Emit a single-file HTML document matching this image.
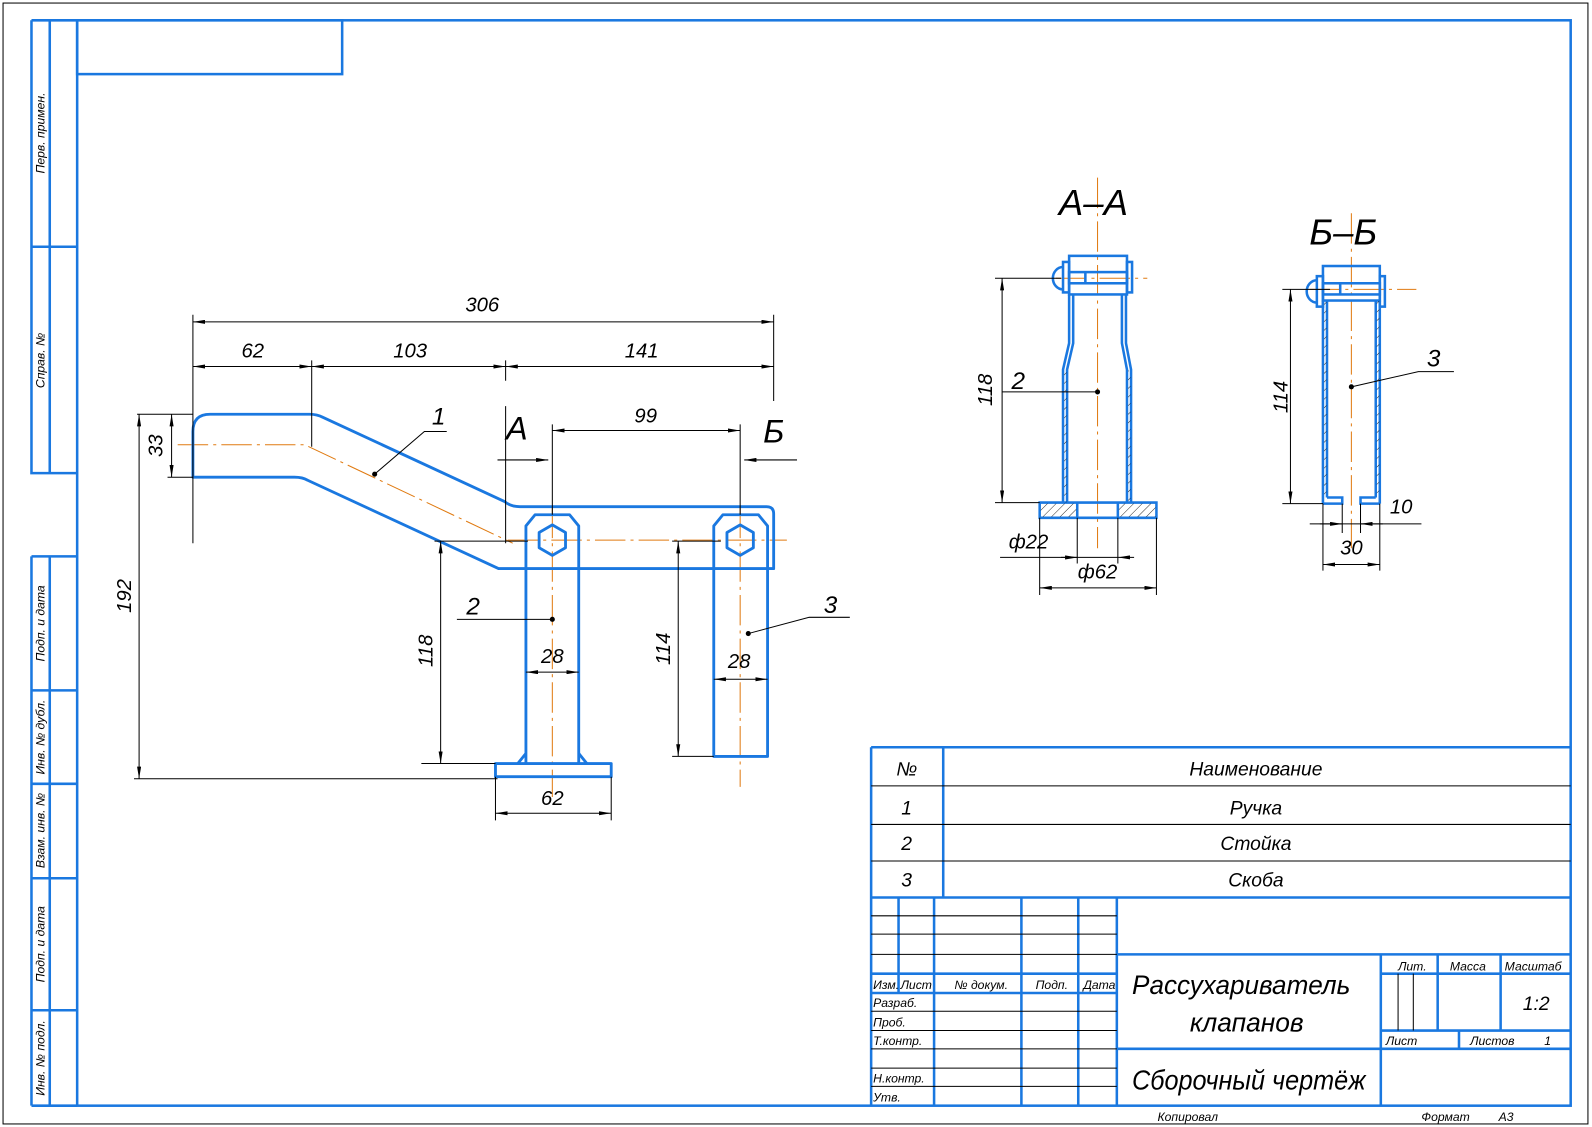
<!DOCTYPE html>
<html><head><meta charset="utf-8"><style>
html,body{margin:0;padding:0;background:#fff;}
svg{display:block;}
text{font-family:"Liberation Sans",sans-serif;font-style:italic;fill:#000;}
</style></head><body>
<svg width="1592" height="1127" viewBox="0 0 1568 1110" preserveAspectRatio="none" xmlns="http://www.w3.org/2000/svg">
<defs>
<marker id="a" viewBox="0 0 12 4" refX="12" refY="2" markerWidth="12" markerHeight="4" markerUnits="userSpaceOnUse" orient="auto-start-reverse"><path d="M0,0 L12,2 L0,4 z" fill="#000"/></marker>
<pattern id="h" width="6" height="6" patternUnits="userSpaceOnUse" patternTransform="rotate(45)"><line x1="0" y1="0" x2="0" y2="6" stroke="#000" stroke-width="0.8"/></pattern>
</defs>
<rect x="0" y="0" width="1568" height="1110" fill="#fff"/>
<rect x="3" y="3" width="1561" height="1104" fill="none" stroke="#000" stroke-width="1"/>
<g fill="none" stroke="#1a78e0" stroke-width="2.5">
<rect x="76" y="20" width="1471" height="1069"/>
<rect x="76" y="20" width="261" height="53"/>
<path d="M31,20 V466 H76 M49,20 V466 M31,20 H76 M31,243 H76"/>
<path d="M31,548 V1089 M49,548 V1089 M31,548 H76 M31,680 H76 M31,772 H76 M31,865 H76 M31,995 H76 M31,1089 H76"/>
<path d="M858,736 H1547 M858,736 V1089 M929,736 V884 M858,884 H1547"/>
<path d="M885,884 V978 M920,884 V1089 M1006,884 V1089 M1062,884 V1089 M1100,884 V1089 M858,959 H1100 M858,978 H1100 M1100,940 H1547 M1100,1033 H1547 M1360,940 V1089 M1360,959 H1547 M1360,1015 H1547 M1416,940 V1015 M1478,940 V1015 M1437,1015 V1033"/>
</g>
<g stroke="#000" stroke-width="1" fill="none">
<path d="M929,774 H1547 M929,812 H1547 M929,848 H1547 M858,774 H929 M858,812 H929 M858,848 H929"/>
<path d="M858,902 H1100 M858,920 H1100 M858,940 H1100 M858,996 H1100 M858,1015 H1100 M858,1033 H1100 M858,1052 H1100 M858,1070 H1100"/>
<path d="M1377,959 V1015 M1392,959 V1015"/>
</g>
<g font-size="12">
<text transform="translate(44,131) rotate(-90)" text-anchor="middle">Перв. примен.</text>
<text transform="translate(44,355) rotate(-90)" text-anchor="middle">Справ. №</text>
<text transform="translate(44,614) rotate(-90)" text-anchor="middle">Подп. и дата</text>
<text transform="translate(44,726) rotate(-90)" text-anchor="middle">Инв. № дубл.</text>
<text transform="translate(44,818) rotate(-90)" text-anchor="middle">Взам. инв. №</text>
<text transform="translate(44,930) rotate(-90)" text-anchor="middle">Подп. и дата</text>
<text transform="translate(44,1042) rotate(-90)" text-anchor="middle">Инв. № подл.</text>
</g>
<g font-size="19" text-anchor="middle">
<text x="893" y="764">№</text><text x="1237" y="764">Наименование</text>
<text x="893" y="802">1</text><text x="1237" y="802">Ручка</text>
<text x="893" y="837">2</text><text x="1237" y="837">Стойка</text>
<text x="893" y="873">3</text><text x="1237" y="873">Скоба</text>
</g>
<g font-size="12">
<text x="860" y="974">Изм.</text><text x="887" y="974">Лист</text><text x="940" y="974">№ докум.</text><text x="1020" y="974">Подп.</text><text x="1067" y="974">Дата</text>
<text x="860" y="992">Разраб.</text><text x="860" y="1011">Проб.</text><text x="860" y="1029">Т.контр.</text>
<text x="860" y="1066">Н.контр.</text><text x="860" y="1085">Утв.</text>
<text x="1377" y="956">Лит.</text><text x="1428" y="956">Масса</text><text x="1482" y="956">Масштаб</text>
<text x="1365" y="1029">Лист</text><text x="1448" y="1029">Листов</text><text x="1521" y="1029">1</text>
<text x="1140" y="1104">Копировал</text><text x="1400" y="1104">Формат</text><text x="1476" y="1104">А3</text>
</g>
<text x="1115" y="979" font-size="26" textLength="215" lengthAdjust="spacingAndGlyphs">Рассухариватель</text>
<text x="1172" y="1016" font-size="26" textLength="112" lengthAdjust="spacingAndGlyphs">клапанов</text>
<text x="1115" y="1073" font-size="27" textLength="230" lengthAdjust="spacingAndGlyphs">Сборочный чертёж</text>
<text x="1513" y="995" font-size="19" text-anchor="middle">1:2</text>

<g stroke="#e07a10" stroke-width="1" fill="none" stroke-dasharray="30,5,3,5">
<path d="M175,438 H300 L505,535"/>
<path d="M500,532 H775"/>
<path d="M544,500 V785 M729,500 V775"/>
<path d="M1081,175 V540 M1040,274 H1130 M1331,210 V540 M1290,285 H1395"/>
</g>
<g fill="none" stroke="#1a78e0" stroke-width="2.8" stroke-linejoin="round">
<path d="M190,470 V425 Q190,408 207,408 H305 Q312,408 318,411 L497,494 Q503,499 512,499 H755 Q762,499 762,506 V560 H491 L303,473 Q298,470 290,470 Z"/>
<path d="M518,752 V518 L527,507 H561 L570,518 V752"/>
<path d="M488,752 H602 V765 H488 Z"/>
<path d="M518,742 L510,752 M570,742 L578,752"/>
<path d="M703,745 V518 L712,507 H747 L756,518 V745 Z"/>
<polygon points="544,517 557,524.5 557,539.5 544,547 531,539.5 531,524.5"/>
<polygon points="729,517 742,524.5 742,539.5 729,547 716,539.5 716,524.5"/>
</g>
<g stroke="#000" stroke-width="1" fill="none">
<path d="M190,310 V535 M762,310 V395 M307,355 V440 M498,355 V375 M498,400 V535"/>
<path d="M190,317 H762" marker-start="url(#a)" marker-end="url(#a)"/>
<path d="M190,361 H307" marker-start="url(#a)" marker-end="url(#a)"/>
<path d="M307,361 H498" marker-start="url(#a)" marker-end="url(#a)"/>
<path d="M498,361 H762" marker-start="url(#a)" marker-end="url(#a)"/>
<path d="M544,418 V507 M729,418 V507"/>
<path d="M544,424 H729" marker-start="url(#a)" marker-end="url(#a)"/>
<path d="M490,453 H540" marker-end="url(#a)"/>
<path d="M785,453 H733" marker-end="url(#a)"/>
<path d="M135,408 H190 M165,470 H190"/>
<path d="M169,408 V470" marker-start="url(#a)" marker-end="url(#a)"/>
<path d="M132,767 H490"/>
<path d="M137,408 V767" marker-start="url(#a)" marker-end="url(#a)"/>
<path d="M428,533 H520 M415,752 H488"/>
<path d="M434,533 V752" marker-start="url(#a)" marker-end="url(#a)"/>
<path d="M662,533 H710 M662,745 H703"/>
<path d="M668,533 V745" marker-start="url(#a)" marker-end="url(#a)"/>
<path d="M518,662 H570" marker-start="url(#a)" marker-end="url(#a)"/>
<path d="M703,669 H756" marker-start="url(#a)" marker-end="url(#a)"/>
<path d="M488,765 V808 M602,765 V808"/>
<path d="M488,801 H602" marker-start="url(#a)" marker-end="url(#a)"/>
<path d="M440,425 H418 L369,467"/>
<path d="M450,610 H544"/>
<path d="M837,608 H797 L737,624"/>
</g>
<g fill="#000"><circle cx="369" cy="467" r="2.5"/><circle cx="544" cy="610" r="2.5"/><circle cx="737" cy="624" r="2.5"/><circle cx="1081" cy="386" r="2.5"/><circle cx="1331" cy="381" r="2.5"/></g>
<g font-size="20" text-anchor="middle">
<text x="475" y="307">306</text><text x="249" y="352">62</text><text x="404" y="352">103</text><text x="632" y="352">141</text>
<text x="636" y="416">99</text>
<text transform="translate(160,439) rotate(-90)">33</text>
<text transform="translate(129,587) rotate(-90)">192</text>
<text transform="translate(426,641) rotate(-90)">118</text>
<text transform="translate(660,639) rotate(-90)">114</text>
<text x="544" y="653">28</text><text x="728" y="658">28</text><text x="544" y="793">62</text>
<text x="432" y="418" font-size="24">1</text><text x="466" y="605" font-size="24">2</text><text x="818" y="604" font-size="24">3</text>
</g>
<text x="509" y="433" font-size="32" font-style="normal" text-anchor="middle">А</text>
<text x="762" y="436" font-size="32" font-style="normal" text-anchor="middle">Б</text>

<text x="1077" y="212" font-size="36" text-anchor="middle">А–А</text>
<g stroke="#1a78e0" stroke-width="2.5" fill="none">
<path d="M1047,495 V364 L1053,338 V290 M1051,495 V364 L1057,338 V290" />
<path d="M1114,495 V364 L1109,338 V290 M1110,495 V364 L1105,338 V290"/>
<rect x="1053" y="252" width="57" height="38"/>
<rect x="1053" y="268" width="57" height="11"/>
<path d="M1069,268 V279"/>
<rect x="1047" y="258" width="6" height="30"/>
<rect x="1110" y="258" width="5" height="30"/>
<path d="M1047,263 A10,11 0 0 0 1047,285"/>
<path d="M1024,495 H1139 V510 H1024 Z M1061,495 V510 M1101,495 V510"/>
</g>
<rect x="1025" y="496" width="35" height="13" fill="url(#h)"/>
<rect x="1102" y="496" width="36" height="13" fill="url(#h)"/>
<rect x="1048" y="365" width="2.5" height="130" fill="url(#h)"/>
<rect x="1111" y="365" width="2.5" height="130" fill="url(#h)"/>
<g stroke="#000" stroke-width="1" fill="none">
<path d="M980,274 H1045 M980,495 H1024"/>
<path d="M987,274 V495" marker-start="url(#a)" marker-end="url(#a)"/>
<path d="M987,386 H1081"/>
<path d="M1061,510 V555 M1101,510 V555 M1024,510 V586 M1139,510 V586"/>
<path d="M985,549 H1101"/>
<path d="M1045,549 H1061" marker-end="url(#a)"/><path d="M1117,549 H1101" marker-end="url(#a)"/>
<path d="M1024,579 H1139" marker-start="url(#a)" marker-end="url(#a)"/>
</g>
<g font-size="20" text-anchor="middle">
<text transform="translate(977,384) rotate(-90)">118</text>
<text x="1003" y="383" font-size="24">2</text>
<text x="1013" y="540">ф22</text><text x="1081" y="570">ф62</text>
</g>

<text x="1323" y="241" font-size="36" text-anchor="middle">Б–Б</text>
<g stroke="#1a78e0" stroke-width="2.5" fill="none">
<path d="M1303,496 V296 M1307,490 V296 M1359,496 V296 M1355,490 V296"/>
<path d="M1303,496 H1322 V490 H1307 M1359,496 H1340 V490 H1355"/>
<rect x="1303" y="262" width="56" height="34"/>
<rect x="1303" y="279" width="56" height="11"/>
<path d="M1320,279 V290"/>
<rect x="1297" y="272" width="6" height="30"/>
<rect x="1359" y="272" width="5" height="30"/>
<path d="M1297,276 A10,11 0 0 0 1297,298"/>
</g>
<rect x="1304" y="296" width="2.5" height="194" fill="url(#h)"/>
<rect x="1356" y="296" width="2.5" height="194" fill="url(#h)"/>
<g stroke="#000" stroke-width="1" fill="none">
<path d="M1263,285 H1310 M1263,496 H1303"/>
<path d="M1271,285 V496" marker-start="url(#a)" marker-end="url(#a)"/>
<path d="M1322,496 V525 M1340,496 V525 M1303,496 V562 M1359,496 V562"/>
<path d="M1290,516 H1400"/>
<path d="M1300,516 H1322" marker-end="url(#a)"/><path d="M1362,516 H1340" marker-end="url(#a)"/>
<path d="M1303,556 H1359" marker-start="url(#a)" marker-end="url(#a)"/>
<path d="M1432,366 H1397 L1331,381"/>
</g>
<g font-size="20" text-anchor="middle">
<text transform="translate(1268,391) rotate(-90)">114</text>
<text x="1380" y="506">10</text><text x="1331" y="546">30</text>
<text x="1412" y="361" font-size="24">3</text>
</g>
</svg>
</body></html>
